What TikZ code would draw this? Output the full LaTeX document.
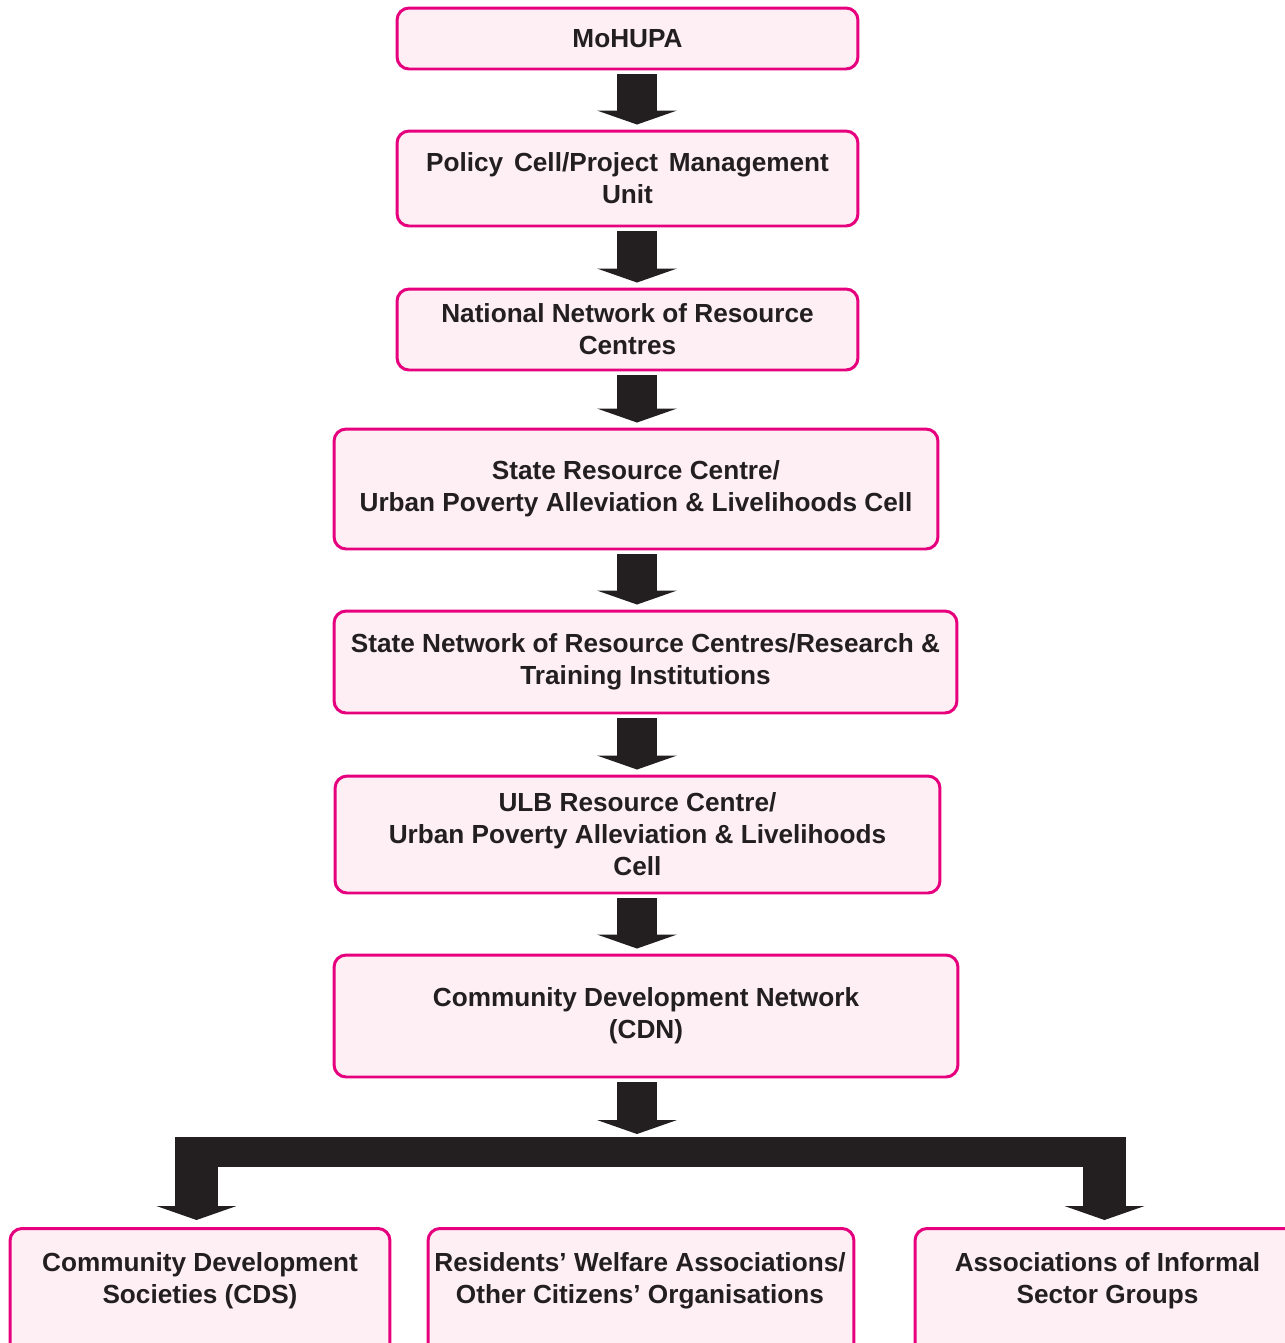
\documentclass[tikz,border=0pt]{standalone}
\usepackage{fontspec}
\setmainfont{Liberation Sans}
\usetikzlibrary{arrows.meta}

\definecolor{boxpink}{HTML}{E6007E}
\definecolor{boxfill}{HTML}{FDEFF4}
\definecolor{inkdark}{HTML}{231F20}

\tikzset{
  box/.style={draw=boxpink, fill=boxfill, line width=1.7pt, rounded corners=0.24cm,
    align=center, text=inkdark, inner sep=0pt,
    font=\bfseries\fontsize{14.9}{18.2}\selectfont},
  boxtext/.style={align=center, text=inkdark, inner sep=0pt,
    font=\bfseries\fontsize{14.9}{18.2}\selectfont},
  blockarrow/.style={draw=inkdark, line width=0.8cm,
    -{Triangle[width=1.6cm, length=0.28cm, line width'=0pt]}},
}

\begin{document}
\begin{tikzpicture}[x=0.02cm, y=-0.02cm]
    \useasboundingbox (0,0) rectangle (1285,1343);

    % Define the boxes of the chain
    \node[box, minimum width=9.22cm, minimum height=1.22cm] (mohupa) at (627.5,38.5) {MoHUPA};
    \node[box, minimum width=9.22cm, minimum height=1.90cm] (policy) at (627.5,178.5)
        {Policy\ \hspace{2pt}Cell/Project\ \hspace{2pt}Management\\Unit};
    \node[box, minimum width=9.22cm, minimum height=1.62cm] (national) at (627.5,329.5)
        {National Network of Resource\\Centres};
    \node[box, minimum width=12.08cm, minimum height=2.40cm] (src) at (636,489)
        {State Resource Centre/\\Urban\ Poverty\ Alleviation\ \&\ Livelihoods\ Cell};
    \node[box, minimum width=12.46cm, minimum height=2.04cm] (statenet) at (645.5,662)
        {State Network of Resource Centres/Research \&\\Training Institutions};
    \node[box, minimum width=12.10cm, minimum height=2.34cm] (ulb) at (637.5,834.5)
        {ULB Resource Centre/\\Urban\ Poverty\ Alleviation\ \&\ Livelihoods\\Cell};
    \node[box, minimum width=12.48cm, minimum height=2.44cm] (cdn) at (646,1016)
        {Community Development Network\\(CDN)};

    % Define the bottom boxes (cut off by the page)
    \node[box, anchor=north, minimum width=7.60cm, minimum height=2.8cm] (cds) at (200,1227) {};
    \node[box, anchor=north, minimum width=8.52cm, minimum height=2.8cm] (rwa) at (641,1227) {};
    \node[box, anchor=north, minimum width=7.70cm, minimum height=2.8cm] (informal) at (1107.5,1227) {};
    \node[boxtext] (cdstext) at (200,1281) {Community Development\\Societies (CDS)};
    \node[boxtext] (rwatext) at (640,1281) {Residents' Welfare Associations/\\Other Citizens' Organisations};
    \node[boxtext] (informaltext) at (1107.5,1281) {Associations of Informal\\Sector Groups};

    % Define the points of the arrows
    \coordinate (ax) at (637,0);
    \coordinate (barL) at (175,1152);
    \coordinate (barR) at (1125,1152);
    \coordinate (legL) at (196.5,1137);
    \coordinate (legR) at (1104.5,1137);

    % Draw the arrows down the chain
    \draw[blockarrow] ([yshift=-0.08cm]mohupa.south -| ax) -- ([yshift=0.1cm]policy.north -| ax);
    \draw[blockarrow] ([yshift=-0.08cm]policy.south -| ax) -- ([yshift=0.1cm]national.north -| ax);
    \draw[blockarrow] ([yshift=-0.08cm]national.south -| ax) -- ([yshift=0.1cm]src.north -| ax);
    \draw[blockarrow] ([yshift=-0.08cm]src.south -| ax) -- ([yshift=0.1cm]statenet.north -| ax);
    \draw[blockarrow] ([yshift=-0.08cm]statenet.south -| ax) -- ([yshift=0.1cm]ulb.north -| ax);
    \draw[blockarrow] ([yshift=-0.08cm]ulb.south -| ax) -- ([yshift=0.1cm]cdn.north -| ax);
    \draw[blockarrow] ([yshift=-0.08cm]cdn.south -| ax) -- ([yshift=0.06cm]legL -| ax);

    % Draw the branch
    \draw[inkdark, line width=0.6cm] (barL) -- (barR);
    \draw[blockarrow, line width=0.86cm] (legL) -- ([yshift=0.14cm]cds.north -| legL);
    \draw[blockarrow, line width=0.86cm] (legR) -- ([yshift=0.14cm]informal.north -| legR);

\end{tikzpicture}
\end{document}
